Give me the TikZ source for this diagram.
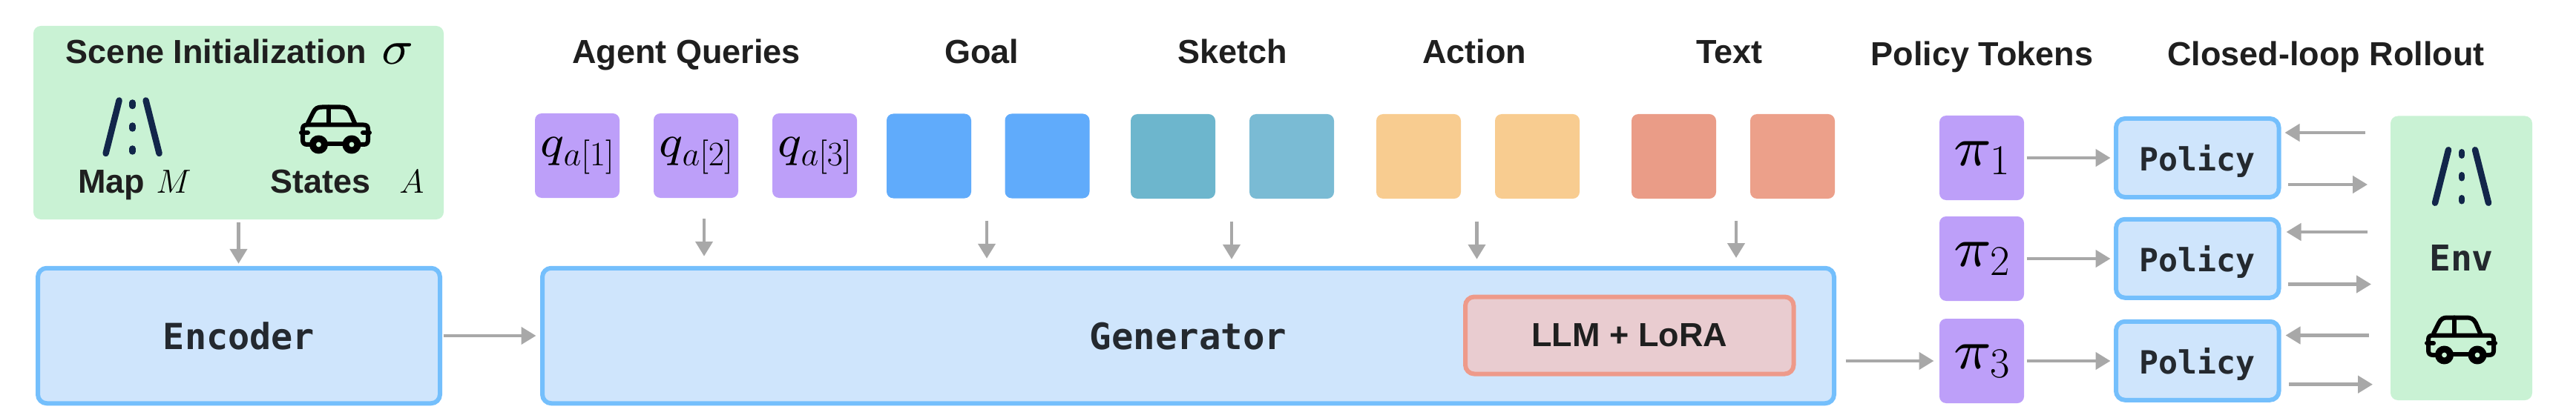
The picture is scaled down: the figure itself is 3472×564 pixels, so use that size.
\RequirePackage{fix-cm}
\documentclass[tikz,border=0pt]{standalone}
\usepackage[no-math]{fontspec}
\usetikzlibrary{arrows.meta}
\newfontfamily\headfont{Liberation Sans}[BoldFont={Liberation Sans Bold}]
\newfontfamily\codefont{DejaVu Sans Mono}[BoldFont={DejaVu Sans Mono Bold}]
\newcommand\fsz[1]{\fontsize{#1}{#1}\selectfont}
\DeclareFontFamily{OML}{cmms}{\skewchar\font=127}
\DeclareFontShape{OML}{cmms}{m}{it}{<-> s*[0.92] cmmi7}{}
\DeclareMathAlphabet{\mathci}{OML}{cmms}{m}{it}
\newcommand\bq{\mathci{q}}
\newcommand\bpi{\mathci{\mathchar"7119}}
\newcommand\bsig{\mathci{\mathchar"711B}}
\definecolor{sceneGreen}{HTML}{C9F2D4}
\definecolor{blockFill}{HTML}{CFE5FC}
\definecolor{blockLine}{HTML}{74BFFC}
\definecolor{tokPurple}{HTML}{BD9FF9}
\definecolor{tokBlue}{HTML}{60ABFB}
\definecolor{tokTealA}{HTML}{6DB6CD}
\definecolor{tokTealB}{HTML}{7ABBD4}
\definecolor{tokAmber}{HTML}{F8CC90}
\definecolor{tokRedA}{HTML}{EA9C87}
\definecolor{tokRedB}{HTML}{ECA08A}
\definecolor{loraFill}{HTML}{E9CCD0}
\definecolor{loraLine}{HTML}{EE9A8A}
\definecolor{arrowGrey}{HTML}{A8A8A8}
\definecolor{roadNavy}{HTML}{12264A}
\definecolor{inkDark}{HTML}{1F1F1F}
\definecolor{codeInk}{HTML}{24292F}
\tikzset{
  x=1pt,y=-1pt,
  every node/.style={inner sep=0pt,outer sep=0pt},
  title/.style={anchor=base,font=\fsz{45}\headfont\bfseries,text=inkDark},
  mathlabel/.style={anchor=base,text=black},
  tok/.style={rounded corners=9pt,minimum width=114pt,minimum height=114pt,text=black},
  panel/.style={rounded corners=10pt,fill=sceneGreen},
  block/.style={rounded corners=12pt,draw=blockLine,line width=6pt,fill=blockFill,text=codeInk,text depth=0pt},
  lora/.style={rounded corners=12pt,draw=loraLine,line width=6pt,fill=loraFill,text=inkDark,text depth=0pt},
  arr/.style={draw=arrowGrey,line width=4.5pt,-{Triangle[length=20pt,width=23pt,fill=arrowGrey]}},
  roadicon/.pic={
    \draw[roadNavy,line cap=round,line width=8.5pt] (-18,1.5) -- (-36,73) (18,1.5) -- (36,73);
    \draw[roadNavy,line cap=round,line width=8.5pt] (0,4.5) -- (0,9) (0,35.5) -- (0,39.5) (0,66.5) -- (0,70.5);
  },
  caricon/.pic={
    \begin{scope}[black,line width=6pt,line join=round,line cap=round]
      \draw (20,31) -- (27,17) .. controls (30,11) and (33,9.5) .. (39,9.5) -- (64,9.5)
            .. controls (70,9.5) and (74,11) .. (77,17) -- (83,31);
      \draw (48,9.5) -- (48,33);
      \draw (24,60) -- (19,60) .. controls (15,60) and (13,58) .. (13,54) -- (13,39)
            .. controls (13,35) and (15,33.5) .. (19,33.5) -- (95,33.5)
            .. controls (99,33.5) and (101,35) .. (101,39) -- (101,54)
            .. controls (101,58) and (99,60) .. (95,60) -- (90,60);
      \draw (45,59) -- (68,59);
      \draw (11,44) -- (20,44) (94,44) -- (103,44);
      \draw[line width=9pt] (34.5,60) circle (8);
      \draw[line width=9pt] (79,60) circle (8);
    \end{scope}
  }
}
\begin{document}
\begin{tikzpicture}
\path[use as bounding box] (0,0) rectangle (3472,564);

% Scene panel
\node[panel,minimum width=553pt,minimum height=261pt] (scene) at (321.5,165.5) {};
\node[title] (sceneTitle) at (291.5,86) {Scene Initialization};
\node[mathlabel,font=\fsz{70}] (sceneSigma) at (535.5,87) {$\bsig$};
\pic at (178.6,134) {roadicon};
\pic at (395,135) {caricon};
\node[title] (mapLabel) at (150,260) {Map};
\node[mathlabel,font=\fsz{45}] (mapM) at (234,261) {$M$};
\node[title] (statesLabel) at (432,261) {States};
\node[mathlabel,font=\fsz{45}] (statesA) at (555,261) {$A$};

% Titles
\node[title] (tAgent) at (925,86) {Agent Queries};
\node[title] (tGoal) at (1323,86) {Goal};
\node[title] (tSketch) at (1661,86) {Sketch};
\node[title] (tAction) at (1987,86) {Action};
\node[title] (tText) at (2331,86) {Text};
\node[title] (tPolicy) at (2671.5,89) {Policy Tokens};
\node[title] (tRollout) at (3135,89) {Closed-loop Rollout};

% Token rows
\node[tok,fill=tokPurple,font=\fsz{66}] (q1) at (778,210) {$\bq_{a[1]}$};
\node[tok,fill=tokPurple,font=\fsz{66}] (q2) at (938,210) {$\bq_{a[2]}$};
\node[tok,fill=tokPurple,font=\fsz{66}] (q3) at (1098,210) {$\bq_{a[3]}$};
\node[tok,fill=tokBlue] (g1) at (1252,210.5) {};
\node[tok,fill=tokBlue] (g2) at (1411.5,210.5) {};
\node[tok,fill=tokTealA] (s1) at (1581,211) {};
\node[tok,fill=tokTealB] (s2) at (1741,211) {};
\node[tok,fill=tokAmber] (a1) at (1912,211) {};
\node[tok,fill=tokAmber] (a2) at (2072,211) {};
\node[tok,fill=tokRedA] (x1) at (2256,211) {};
\node[tok,fill=tokRedB] (x2) at (2416,211) {};

% Main blocks
\node[block,minimum width=542pt,minimum height=182.5pt,font=\fsz{48.5}\codefont\bfseries] (encoder) at (322,453) {Encoder};
\node[block,minimum width=1741pt,minimum height=182.5pt,font=\fsz{49}\codefont\bfseries] (gen) at (1601.5,453) {Generator};
\node[lora,minimum width=442.5pt,minimum height=104pt,font=\fsz{45}\headfont\bfseries] (llm) at (2196.25,452.5) {LLM + LoRA};

% Policy tokens
\node[tok,fill=tokPurple,font=\fsz{82}] (pi1) at (2671,213) {$\bpi_1$};
\node[tok,fill=tokPurple,font=\fsz{82}] (pi2) at (2671,349) {$\bpi_2$};
\node[tok,fill=tokPurple,font=\fsz{82}] (pi3) at (2671,487) {$\bpi_3$};

% Policy blocks
\node[block,minimum width=219.5pt,minimum height=106pt,font=\fsz{43.2}\codefont\bfseries] (pol1) at (2961.75,213) {Policy};
\node[block,minimum width=219.5pt,minimum height=106pt,font=\fsz{43.2}\codefont\bfseries] (pol2) at (2961.75,348.75) {Policy};
\node[block,minimum width=219.5pt,minimum height=106pt,font=\fsz{43.2}\codefont\bfseries] (pol3) at (2961.75,486.75) {Policy};

% Env
\node[panel,minimum width=191pt,minimum height=383.5pt,text=codeInk,text depth=0pt,font=\fsz{48}\codefont\bfseries] (env) at (3317.5,348.25) {Env};
\pic at (3318,200.75) {roadicon};
\pic at (3260,419) {caricon};

% Helper coordinates for connector offsets
\coordinate (xq) at (949,0);
\coordinate (xg) at (1330,0);
\coordinate (xs) at (1660,0);
\coordinate (xa) at (1990.5,0);
\coordinate (xt) at (2340,0);
\coordinate (inA) at (0,179);
\coordinate (inB) at (0,313);
\coordinate (inC) at (0,452.5);
\coordinate (outA) at (0,249);
\coordinate (outB) at (0,383.5);
\coordinate (outC) at (0,518.7);

% Connectors
\draw[arr,shorten <=4pt,shorten >=6pt] (scene.south) -- (encoder.north -| scene.south);
\draw[arr,shorten <=4.5pt,shorten >=8.5pt] (encoder.east) -- (gen.west);
\draw[arr,shorten <=28pt,shorten >=16pt] (q2.south -| xq) -- (gen.north -| xq);
\draw[arr,shorten <=30pt,shorten >=13pt] (g1.south -| xg) -- (gen.north -| xg);
\draw[arr,shorten <=30.5pt,shorten >=12pt] (s1.south -| xs) -- (gen.north -| xs);
\draw[arr,shorten <=30.5pt,shorten >=12pt] (a1.south -| xa) -- (gen.north -| xa);
\draw[arr,shorten <=29.5pt,shorten >=13.75pt] (x1.south -| xt) -- (gen.north -| xt);
\draw[arr,shorten <=15.5pt,shorten >=7.5pt] (gen.east |- pi3.west) -- (pi3.west);
\draw[arr,shorten <=3.6pt,shorten >=7.5pt] (pi1.east) -- (pol1.west);
\draw[arr,shorten <=3.6pt,shorten >=7.5pt] (pi2.east) -- (pi2.east -| pol2.west);
\draw[arr,shorten <=3.6pt,shorten >=7.5pt] (pi3.east) -- (pi3.east -| pol3.west);
\draw[arr,shorten <=34pt,shorten >=8pt] (env.west |- inA) -- (pol1.east |- inA);
\draw[arr,shorten <=31.5pt,shorten >=10pt] (env.west |- inB) -- (pol2.east |- inB);
\draw[arr,shorten <=29pt,shorten >=9pt] (env.west |- inC) -- (pol3.east |- inC);
\draw[arr,shorten <=12pt,shorten >=31pt] (pol1.east |- outA) -- (env.west |- outA);
\draw[arr,shorten <=12pt,shorten >=26pt] (pol2.east |- outB) -- (env.west |- outB);
\draw[arr,shorten <=13.6pt,shorten >=24pt] (pol3.east |- outC) -- (env.west |- outC);
\end{tikzpicture}
\end{document}
